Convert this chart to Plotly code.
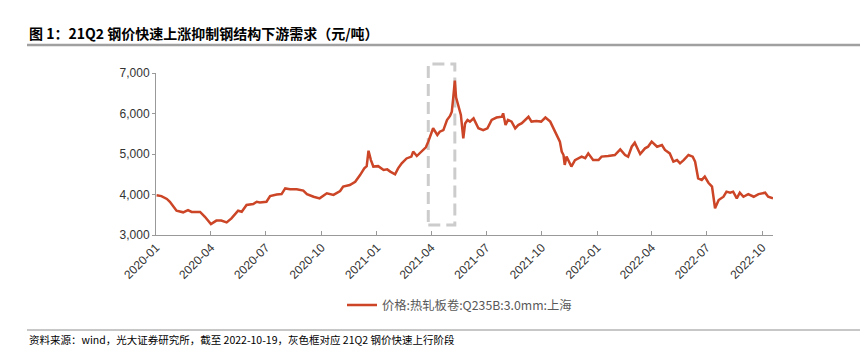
import pandas as pd
import plotly.graph_objects as go

# ---- data ----
dates = [
    "2020-01-02", "2020-01-10", "2020-01-19", "2020-01-24", "2020-02-04", "2020-02-15",
    "2020-02-23", "2020-02-29", "2020-03-14", "2020-03-22", "2020-04-01", "2020-04-10",
    "2020-04-18", "2020-04-27", "2020-05-05", "2020-05-16", "2020-05-22", "2020-05-30",
    "2020-06-10", "2020-06-16", "2020-06-21", "2020-07-02", "2020-07-08", "2020-07-19",
    "2020-07-27", "2020-08-02", "2020-08-10", "2020-08-21", "2020-09-01", "2020-09-07",
    "2020-09-18", "2020-09-28", "2020-10-10", "2020-10-21", "2020-11-01", "2020-11-06",
    "2020-11-17", "2020-11-26", "2020-12-04", "2020-12-11", "2020-12-15", "2020-12-18",
    "2020-12-22", "2020-12-26", "2021-01-03", "2021-01-12", "2021-01-18", "2021-01-23",
    "2021-01-31", "2021-02-05", "2021-02-11", "2021-02-19", "2021-02-27", "2021-03-02",
    "2021-03-08", "2021-03-16", "2021-03-23", "2021-03-27", "2021-04-04", "2021-04-11",
    "2021-04-15", "2021-04-21", "2021-04-27", "2021-05-02", "2021-05-05", "2021-05-07",
    "2021-05-10", "2021-05-12", "2021-05-14", "2021-05-17", "2021-05-20", "2021-05-22",
    "2021-05-24", "2021-05-27", "2021-05-31", "2021-06-04", "2021-06-10", "2021-06-18",
    "2021-06-26", "2021-07-03", "2021-07-10", "2021-07-18", "2021-07-27", "2021-07-29",
    "2021-08-02", "2021-08-06", "2021-08-12", "2021-08-18", "2021-08-23", "2021-08-29",
    "2021-09-04", "2021-09-09", "2021-09-14", "2021-09-22", "2021-09-30", "2021-10-07",
    "2021-10-15", "2021-10-20", "2021-10-26", "2021-10-31", "2021-11-03", "2021-11-06",
    "2021-11-08", "2021-11-11", "2021-11-19", "2021-11-25", "2021-12-06", "2021-12-12",
    "2021-12-17", "2021-12-25", "2022-01-03", "2022-01-08", "2022-01-19", "2022-01-30",
    "2022-02-08", "2022-02-16", "2022-02-21", "2022-02-27", "2022-03-04", "2022-03-13",
    "2022-03-21", "2022-03-26", "2022-04-01", "2022-04-10", "2022-04-18", "2022-04-23",
    "2022-05-01", "2022-05-07", "2022-05-13", "2022-05-18", "2022-05-24", "2022-06-01",
    "2022-06-08", "2022-06-12", "2022-06-17", "2022-06-23", "2022-06-28", "2022-07-04",
    "2022-07-10", "2022-07-12", "2022-07-15", "2022-07-21", "2022-07-29", "2022-08-03",
    "2022-08-09", "2022-08-14", "2022-08-20", "2022-08-25", "2022-08-31", "2022-09-08",
    "2022-09-17", "2022-09-25", "2022-10-06", "2022-10-11", "2022-10-19",
]
prices = [
    3980, 3960, 3890, 3820, 3600, 3560,
    3615, 3570, 3570, 3450, 3270, 3355,
    3355, 3310, 3410, 3600, 3575, 3740,
    3765, 3820, 3805, 3820, 3960, 4000,
    4010, 4150, 4130, 4130, 4095, 4010,
    3945, 3905, 4030, 3990, 4085, 4195,
    4235, 4315, 4480, 4645, 4700, 5080,
    4850, 4690, 4700, 4605, 4620, 4565,
    4500, 4645, 4770, 4890, 4935, 5060,
    4950, 5060, 5165, 5305, 5635, 5470,
    5550, 5590, 5840, 5940, 6045, 6335,
    6810, 6400, 6290, 6170, 5965, 5675,
    5385, 5755, 5840, 5800, 5880, 5635,
    5590, 5635, 5840, 5900, 5920, 6005,
    5715, 5840, 5800, 5635, 5715, 5760,
    5840, 5920, 5800, 5815, 5800, 5900,
    5800, 5635, 5430, 5305, 5060, 4975,
    4730, 4935, 4690, 4850, 4935, 4895,
    5015, 4850, 4850, 4935, 4950, 4975,
    5115, 4975, 4935, 5180, 5280, 5000,
    5140, 5180, 5305, 5180, 5220, 5100,
    5015, 4810, 4850, 4770, 4850, 4975,
    4935, 4810, 4400, 4360, 4440, 4290,
    4195, 3945, 3660, 3865, 3945, 4070,
    4045, 4070, 3905, 4045, 3945, 4010,
    3945, 4010, 4045, 3945, 3905,
]
series_name = "价格:热轧板卷:Q235B:3.0mm:上海"
y_ticks = [3000, 4000, 5000, 6000, 7000]
x_range = ["2020-01-01", "2022-10-19"]
box_period = ["2021-03-27", "2021-05-10"]
title_text = "图 1：21Q2 钢价快速上涨抑制钢结构下游需求（元/吨）"
source_text = "资料来源：wind，光大证券研究所，截至 2022-10-19，灰色框对应 21Q2 钢价快速上行阶段"

# ---- figure ----
W, H = 863, 351
L, R, T, B = 156, 90, 73, 116
plot_w = W - L - R
plot_h = H - T - B

def px_to_paper_x(px):
    return (px - L) / plot_w

def px_to_paper_y(py):
    return (H - B - py) / plot_h

line_color = "#CB4526"
font_latin = "Liberation Sans, Arial, Noto Sans CJK SC, sans-serif"
font_cjk = "Noto Sans CJK SC, Liberation Sans, sans-serif"

fig = go.Figure()
fig.add_trace(go.Scatter(
    x=pd.to_datetime(dates), y=prices, mode="lines", name=series_name,
    line=dict(color=line_color, width=2.5),
))

fig.update_layout(
    width=W, height=H, autosize=False,
    margin=dict(l=L, r=R, t=T, b=B, pad=0),
    paper_bgcolor="white", plot_bgcolor="white",
    font=dict(family=font_latin, size=12, color="#333333"),
    showlegend=True,
    legend=dict(
        orientation="h", x=px_to_paper_x(342), y=px_to_paper_y(305),
        xanchor="left", yanchor="middle",
        font=dict(family=font_cjk, size=12.3, color="#595959"),
        bgcolor="rgba(0,0,0,0)", itemwidth=30,
    ),
    xaxis=dict(
        type="date", range=x_range,
        tickmode="linear", tick0="2020-01-01", dtick="M3", tickformat="%Y-%m",
        tickangle=-45, ticks="inside", ticklen=4, tickcolor="#999999",
        showline=True, linecolor="#999999", linewidth=1,
        showgrid=False, zeroline=False,
        tickfont=dict(family=font_latin, size=12, color="#333333"),
    ),
    yaxis=dict(
        range=[3000, 7000], tickvals=y_ticks, tickformat=",d",
        ticks="outside", ticklen=3, tickcolor="#999999",
        showline=True, linecolor="#999999", linewidth=1,
        showgrid=False, zeroline=False,
        tickfont=dict(family=font_latin, size=12, color="#333333"),
    ),
)

# dashed box marking the 21Q2 rapid rise
fig.add_shape(
    type="rect", xref="x", yref="paper",
    x0=box_period[0], x1=box_period[1],
    y0=px_to_paper_y(225), y1=px_to_paper_y(64),
    line=dict(color="#CCCCCC", width=3, dash="12px,6px"),
    fillcolor="rgba(0,0,0,0)", layer="below",
)

# title and rules
fig.add_annotation(
    text="<b>" + title_text + "</b>", xref="paper", yref="paper",
    x=px_to_paper_x(27), y=px_to_paper_y(33), xanchor="left", yanchor="middle",
    showarrow=False, font=dict(family=font_cjk, size=14, color="#000000"),
)
fig.add_shape(
    type="line", xref="paper", yref="paper",
    x0=px_to_paper_x(27), x1=px_to_paper_x(860),
    y0=px_to_paper_y(45), y1=px_to_paper_y(45),
    line=dict(color="#A0A0A0", width=2.5),
)
fig.add_shape(
    type="line", xref="paper", yref="paper",
    x0=px_to_paper_x(27), x1=px_to_paper_x(860),
    y0=px_to_paper_y(330), y1=px_to_paper_y(330),
    line=dict(color="#909090", width=1.2),
)
fig.add_annotation(
    text=source_text, xref="paper", yref="paper",
    x=px_to_paper_x(27), y=px_to_paper_y(339), xanchor="left", yanchor="middle",
    showarrow=False, font=dict(family=font_cjk, size=10.5, color="#000000"),
)

fig.write_html("out.html")
